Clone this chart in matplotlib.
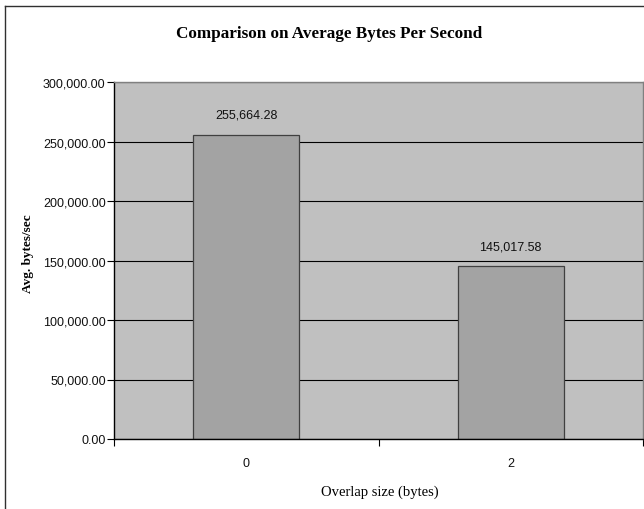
import matplotlib
matplotlib.use('Agg')
import matplotlib.pyplot as plt
from matplotlib.lines import Line2D
from matplotlib.ticker import FuncFormatter

categories = ['0', '2']
avg_bytes = [255664.28, 145017.58]
y_ticks = [0, 50000, 100000, 150000, 200000, 250000, 300000]

W, H = 644, 510
fig = plt.figure(figsize=(W / 100, H / 100), dpi=100)
fig.patch.set_facecolor('white')

# chart area border (right/bottom are cut off in the screenshot)
fig.add_artist(Line2D([5 / W, 5 / W], [0, 1 - 7 / H], transform=fig.transFigure,
                      color='#303030', lw=1.0))
fig.add_artist(Line2D([5 / W, 1], [1 - 7 / H, 1 - 7 / H], transform=fig.transFigure,
                      color='#303030', lw=1.0))

left, right, top, bottom = 114, 643, 83, 440
ax = fig.add_axes([left / W, (H - bottom) / H, (right - left) / W, (bottom - top) / H])
ax.set_facecolor('#c0c0c0')

x = list(range(len(categories)))
bars = ax.bar(x, avg_bytes, width=0.4, color='#a3a3a3', edgecolor='#404040',
              linewidth=0.9, zorder=3)
for xi, v in zip(x, avg_bytes):
    ax.annotate('{:,.2f}'.format(v), (xi, v), xytext=(0, 10), textcoords='offset points',
                ha='center', va='bottom', fontsize=9, family='Liberation Sans', color='#111')

ax.set_xlim(-0.5, len(categories) - 0.5)
ax.set_ylim(0, 300000)
ax.set_yticks(y_ticks)
ax.yaxis.set_major_formatter(FuncFormatter(lambda v, p: '{:,.2f}'.format(v)))
ax.grid(axis='y', color='black', lw=0.8, zorder=1)
ax.set_axisbelow(True)

# category boundaries get tick marks, labels sit at the centres
ax.set_xticks([i - 0.5 for i in range(len(categories) + 1)])
ax.set_xticklabels([])
ax.set_xticks(x, minor=True)
ax.set_xticklabels(categories, minor=True)
ax.tick_params(axis='x', which='minor', length=0, pad=13, labelsize=9)
ax.tick_params(axis='x', which='major', length=5, width=0.8, direction='out')
ax.tick_params(axis='y', length=5, width=0.8, pad=1, labelsize=9)
for lab in ax.get_xticklabels(minor=True) + ax.get_yticklabels():
    lab.set_family('Liberation Sans')
    lab.set_color('#111')

for s in ['top', 'right']:
    ax.spines[s].set_color('#808080')
    ax.spines[s].set_linewidth(1.0)
for s in ['left', 'bottom']:
    ax.spines[s].set_color('black')
    ax.spines[s].set_linewidth(1.0)
ax.spines['bottom'].set_zorder(4)

fig.text(329 / W, 1 - 34 / H, 'Comparison on Average Bytes Per Second', ha='center',
         va='center', fontsize=12.3, fontweight='bold', family='Liberation Serif')
fig.text(28 / W, 1 - 254 / H, 'Avg. bytes/sec', rotation=90, ha='center', va='center',
         fontsize=9.5, fontweight='bold', family='Liberation Serif')
fig.text(380 / W, 1 - 492 / H, 'Overlap size (bytes)', ha='center', va='center',
         fontsize=10.5, family='Liberation Serif')

fig.savefig('out.png', dpi=100)
